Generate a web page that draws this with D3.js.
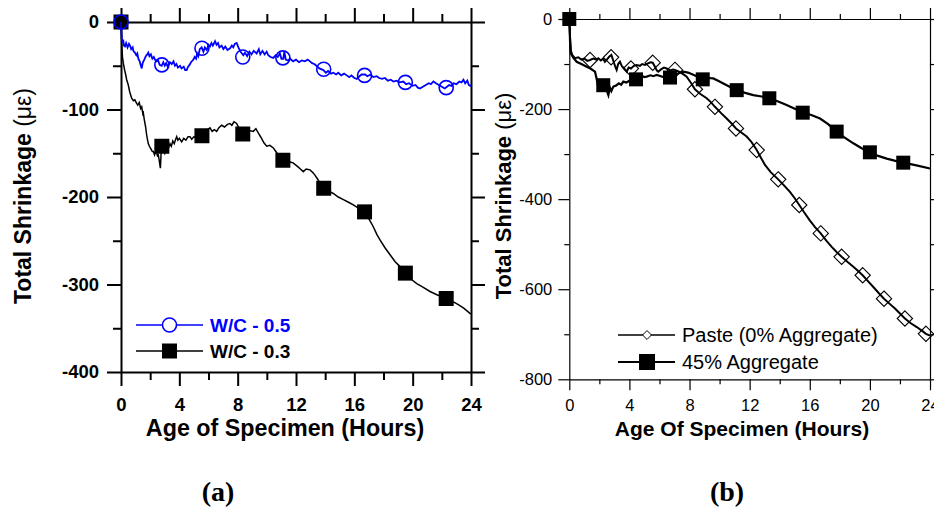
<!DOCTYPE html>
<html>
<head>
<meta charset="utf-8">
<script src="https://cdn.jsdelivr.net/npm/d3@7"></script>
<style>
  html, body { margin: 0; padding: 0; background: #fff; }
  svg { display: block; }
</style>
</head>
<body>
<div id="chart"></div>
<script>
// ---- data (hours, shrinkage in microstrain) ----
const hourTicks = [0, 4, 8, 12, 16, 20, 24];
const hourMinor = [2, 6, 10, 14, 18, 22];
const leftYTicks = [0, -100, -200, -300, -400];
const leftYMinor = [-50, -150, -250, -350];
const rightYTicks = [0, -200, -400, -600, -800];
const rightYMinor = [-100, -300, -500, -700];

// panel (a): W/C 0.5
const wc05Trace = [
  [0,0],[0.05,-19],[0.1,-24],[0.15,-20],[0.2,-27],[0.27,-28],[0.35,-24],[0.45,-29],[0.55,-25],[0.62,-27],
  [0.7,-31],[0.8,-29],[0.85,-33],[0.95,-35],[1.05,-38],[1.12,-36],[1.19,-42],[1.28,-45],[1.35,-49],[1.42,-53],
  [1.5,-46],[1.6,-43],[1.7,-39],[1.8,-37],[1.87,-35],[1.95,-39],[2.05,-37],[2.15,-42],[2.25,-40],[2.33,-43],
  [2.45,-45],[2.55,-44],[2.65,-49],[2.79,-50],[2.9,-46],[3.0,-50],[3.1,-47],[3.2,-51],[3.35,-46],[3.48,-48],
  [3.6,-45],[3.7,-50],[3.8,-48],[3.9,-52],[4.05,-50],[4.15,-53],[4.3,-51],[4.4,-55],[4.5,-55],[4.6,-51],
  [4.7,-49],[4.8,-46],[4.9,-44],[4.96,-43],[5.05,-40],[5.15,-42],[5.22,-36],[5.3,-39],[5.4,-31],[5.53,-29],
  [5.65,-34],[5.75,-29],[5.88,-32],[6.0,-26],[6.1,-28],[6.2,-24],[6.3,-27],[6.45,-22],[6.55,-26],[6.65,-24],
  [6.75,-29],[6.9,-27],[7.02,-31],[7.15,-28],[7.3,-32],[7.48,-30],[7.6,-27],[7.7,-29],[7.8,-25],[7.93,-24],
  [8.05,-29],[8.2,-34],[8.39,-38],[8.5,-35],[8.65,-39],[8.8,-34],[8.95,-37],[9.1,-33],[9.3,-36],[9.45,-31],
  [9.55,-37],[9.7,-33],[9.85,-37],[9.99,-34],[10.1,-38],[10.25,-40],[10.45,-41],[10.6,-38],[10.75,-40],[10.9,-36],
  [11.0,-42],[11.13,-42],[11.2,-34],[11.3,-43],[11.45,-44],[11.6,-42],[11.8,-45],[12.0,-43],[12.2,-46],[12.4,-44],
  [12.6,-45],[12.8,-43],[12.96,-45],[13.1,-47],[13.25,-48],[13.4,-50],[13.6,-53],[13.88,-55],[14.05,-58],[14.2,-56],
  [14.4,-59],[14.56,-58],[14.75,-60],[14.9,-58],[15.1,-61],[15.3,-59],[15.48,-61],[15.65,-63],[15.8,-61],[16.0,-64],
  [16.17,-65],[16.35,-62],[16.5,-60],[16.74,-60],[16.9,-62],[17.1,-60],[17.3,-63],[17.54,-62],[17.7,-64],[17.9,-65],
  [18.1,-64],[18.3,-67],[18.5,-66],[18.68,-68],[18.9,-67],[19.1,-69],[19.36,-68],[19.55,-71],[19.75,-70],[20.0,-73],
  [20.2,-72],[20.35,-75],[20.5,-76],[20.7,-74],[20.9,-72],[21.1,-70],[21.25,-71],[21.42,-68],[21.6,-70],[21.8,-72],
  [22.0,-74],[22.2,-76],[22.35,-74],[22.5,-72],[22.65,-73],[22.8,-70],[23.0,-71],[23.2,-68],[23.35,-69],[23.48,-66],
  [23.6,-70],[23.75,-67],[23.85,-72],[23.94,-73],[24.0,-72]
];
const wc05MarkHours = [0, 2.8, 5.55, 8.35, 11.1, 13.9, 16.7, 19.5, 22.3];
const wc05MarkVals = [0, -49, -30, -40, -41, -54, -61, -69, -75];

// panel (a): W/C 0.3
const wc03Trace = [
  [0,0],[0.05,-25],[0.1,-40],[0.16,-47],[0.25,-55],[0.32,-60],[0.39,-66],[0.5,-72],[0.6,-80],[0.73,-87],
  [0.85,-90],[0.95,-89],[1.07,-93],[1.15,-95],[1.25,-92],[1.35,-99],[1.42,-97],[1.5,-105],[1.53,-104],[1.6,-112],
  [1.69,-120],[1.75,-128],[1.8,-133],[1.87,-139],[1.95,-142],[2.05,-145],[2.15,-148],[2.22,-148],[2.3,-152],[2.4,-147],
  [2.5,-153],[2.56,-152],[2.62,-158],[2.7,-167],[2.75,-150],[2.82,-148],[2.9,-146],[3.0,-150],[3.1,-143],[3.2,-147],
  [3.36,-139],[3.45,-142],[3.55,-136],[3.65,-139],[3.75,-134],[3.82,-131],[3.9,-135],[4.0,-133],[4.16,-137],[4.3,-133],
  [4.45,-135],[4.6,-131],[4.73,-131],[4.85,-134],[5.0,-131],[5.19,-133],[5.35,-130],[5.53,-130],[5.7,-127],[5.85,-124],
  [6.0,-122],[6.1,-121],[6.25,-125],[6.4,-123],[6.56,-125],[6.7,-121],[6.9,-118],[7.1,-120],[7.3,-117],[7.47,-116],
  [7.6,-118],[7.75,-114],[7.93,-116],[8.05,-120],[8.2,-124],[8.4,-128],[8.6,-127],[8.8,-124],[9.07,-125],[9.25,-122],
  [9.42,-127],[9.6,-132],[9.8,-138],[9.99,-142],[10.2,-141],[10.45,-144],[10.7,-150],[10.9,-155],[11.15,-158],[11.4,-158],
  [11.6,-160],[11.8,-161],[12.1,-165],[12.3,-168],[12.5,-171],[12.7,-168],[12.96,-169],[13.15,-172],[13.3,-175],[13.5,-180],
  [13.7,-186],[13.9,-190],[14.2,-193],[14.56,-196],[14.9,-200],[15.25,-203],[15.6,-206],[15.93,-209],[16.3,-213],[16.7,-217],
  [17.0,-225],[17.3,-234],[17.55,-243],[17.76,-249],[18.1,-258],[18.45,-266],[18.8,-274],[19.1,-279],[19.5,-287],[19.9,-294],
  [20.28,-299],[20.7,-303],[21.19,-308],[21.7,-312],[22.3,-316],[22.7,-319],[23.13,-323],[23.5,-327],[23.93,-333],[24,-334]
];
const wc03MarkHours = [0, 2.8, 5.55, 8.35, 11.1, 13.9, 16.7, 19.5, 22.3];
const wc03MarkVals = [0, -142, -130, -128, -158, -190, -217, -287, -316];

// panel (b): paste (0% aggregate)
const pasteTrace = [
  [0,0],[0.05,-40],[0.1,-70],[0.2,-80],[0.38,-87],[0.6,-85],[0.8,-90],[1.0,-88],[1.2,-93],[1.38,-91],
  [1.6,-88],[1.8,-90],[1.93,-87],[2.1,-92],[2.25,-88],[2.37,-95],[2.5,-90],[2.65,-84],[2.8,-80],[2.95,-95],
  [3.05,-105],[3.15,-113],[3.25,-100],[3.37,-95],[3.5,-105],[3.65,-110],[3.82,-117],[3.95,-108],[4.1,-110],[4.3,-104],
  [4.48,-102],[4.7,-104],[4.85,-100],[5.04,-102],[5.2,-99],[5.4,-96],[5.55,-97],[5.7,-106],[5.82,-114],[5.92,-117],
  [6.1,-112],[6.3,-108],[6.48,-110],[6.7,-114],[6.9,-112],[7.03,-113],[7.3,-117],[7.55,-122],[7.81,-128],[8.1,-142],
  [8.36,-156],[8.7,-166],[9.14,-176],[9.4,-184],[9.69,-195],[10.1,-209],[10.47,-221],[10.8,-232],[11.09,-243],[11.4,-251],
  [11.8,-261],[12.1,-272],[12.47,-291],[12.75,-308],[13.02,-324],[13.4,-340],[13.9,-356],[14.3,-370],[14.68,-384],[15.0,-398],
  [15.3,-413],[15.6,-428],[16.0,-447],[16.35,-462],[16.73,-476],[17.1,-492],[17.46,-506],[17.8,-518],[18.12,-528],[18.5,-539],
  [18.9,-550],[19.2,-559],[19.52,-569],[19.9,-583],[20.23,-595],[20.6,-609],[20.94,-621],[21.3,-632],[21.67,-643],[22.0,-654],
  [22.33,-665],[22.7,-675],[23.12,-684],[23.5,-693],[23.73,-699],[24,-703]
];
const pasteMarkHours = [1.38, 2.78, 4.1, 5.55, 7.03, 8.36, 9.69, 11.09, 12.47, 13.9, 15.3, 16.73, 18.12, 19.52, 20.94, 22.33, 23.73];
const pasteMarkVals = [-91, -85, -110, -97, -113, -156, -195, -243, -291, -356, -413, -476, -528, -569, -621, -665, -699];

// panel (b): 45% aggregate
const aggTrace = [
  [0,0],[0.05,-50],[0.1,-76],[0.25,-85],[0.49,-95],[0.8,-100],[1.16,-106],[1.4,-110],[1.71,-117],[1.8,-130],
  [1.9,-147],[2.1,-145],[2.26,-147],[2.45,-155],[2.6,-169],[2.7,-152],[2.8,-160],[2.93,-150],[3.1,-148],[3.3,-143],
  [3.45,-146],[3.6,-139],[3.8,-141],[4.0,-137],[4.2,-139],[4.44,-134],[4.6,-128],[4.8,-126],[5.0,-129],[5.15,-128],
  [5.4,-125],[5.6,-127],[5.82,-124],[6.1,-127],[6.4,-131],[6.7,-130],[7.0,-125],[7.3,-120],[7.58,-117],[7.9,-119],
  [8.25,-124],[8.55,-128],[8.88,-134],[9.2,-131],[9.58,-132],[9.9,-137],[10.25,-143],[10.7,-151],[11.14,-158],[11.7,-164],
  [12.24,-169],[12.8,-172],[13.31,-176],[13.9,-183],[14.46,-191],[15.0,-199],[15.53,-208],[16.1,-213],[16.68,-221],[17.2,-233],
  [17.79,-250],[18.3,-263],[18.9,-276],[19.45,-287],[20.0,-296],[20.55,-304],[21.12,-310],[21.7,-315],[22.22,-319],[23.1,-325],
  [24,-332]
];
const aggMarkHours = [0, 2.26, 4.44, 6.7, 8.88, 11.14, 13.31, 15.53, 17.79, 20.0, 22.22];
const aggMarkVals = [0, -147, -134, -130, -134, -158, -176, -208, -250, -296, -319];

const sans = "'Liberation Sans', Arial, Helvetica, sans-serif";

const svg = d3.select("#chart")
  .append("svg")
    .attr("width", 934)
    .attr("height", 509)
    .attr("viewBox", [0, 0, 934, 509]);

// scales for both panels
const xA = d3.scaleLinear().domain([0, 24]).range([121, 471]);
const yA = d3.scaleLinear().domain([-400, 0]).range([372, 22]);
const xB = d3.scaleLinear().domain([0, 24]).range([569.3, 930]);
const yB = d3.scaleLinear().domain([-800, 0]).range([379.3, 19]);

// box with outward major + minor ticks on all four sides
function drawFrame(x, y, opt) {
  const g = svg.append("g");
  const [x0, x1] = x.range();
  const [y0, y1] = y.range();
  const fmt = d => String(d);
  const sides = [
    [d3.axisBottom, x, `translate(0,${y0})`, hourTicks, hourMinor, true, opt.padX],
    [d3.axisTop, x, `translate(0,${y1})`, hourTicks, hourMinor, false, opt.padX],
    [d3.axisLeft, y, `translate(${x0},0)`, opt.yTicks, opt.yMinor, true, opt.padY],
    [d3.axisRight, y, `translate(${x1},0)`, opt.yTicks, opt.yMinor, false, opt.padY]
  ];
  sides.forEach(([make, scale, tr, major, minor, labels, pad]) => {
    g.append("g")
      .attr("transform", tr)
      .call(make(scale).tickValues(major).tickSize(opt.major).tickSizeOuter(0)
        .tickPadding(pad)
        .tickFormat(labels ? fmt : () => ""))
      .attr("font-family", sans)
      .attr("font-size", opt.fontSize)
      .attr("font-weight", opt.bold ? "bold" : "normal")
      .call(a => a.selectAll("line, path").attr("stroke", "#000").attr("stroke-width", opt.sw))
      .call(a => a.selectAll("text").attr("fill", "#000"));
    g.append("g")
      .attr("transform", tr)
      .call(make(scale).tickValues(minor).tickSize(opt.minor).tickFormat(() => ""))
      .call(a => a.select(".domain").remove())
      .call(a => a.selectAll("line").attr("stroke", "#000").attr("stroke-width", opt.sw));
  });
  return g;
}

function yTitle(cx, cy, size) {
  const t = svg.append("text")
    .attr("transform", `translate(${cx},${cy}) rotate(-90)`)
    .attr("text-anchor", "middle")
    .attr("dominant-baseline", "central")
    .attr("font-family", sans)
    .attr("font-size", size)
    .attr("fill", "#000");
  t.append("tspan").attr("font-weight", "bold").text("Total Shrinkage ");
  t.append("tspan").attr("font-weight", "normal").text("(με)");
}

const line = (x, y) => d3.line().x(d => x(d[0])).y(d => y(d[1]));
const sq = d3.symbol().type(d3.symbolSquare);
const dia = d3.symbol().type(d3.symbolDiamond2);

// ---------- panel (a) ----------
drawFrame(xA, yA, {fontSize: 18.5, bold: true, major: 14, minor: 8, sw: 2,
  padX: 12, padY: 8, yTicks: leftYTicks, yMinor: leftYMinor});

svg.append("path")
  .attr("d", line(xA, yA)(wc03Trace))
  .attr("fill", "none").attr("stroke", "#000").attr("stroke-width", 1.5);
svg.append("g").selectAll("path")
  .data(wc03MarkHours)
  .join("path")
    .attr("transform", (d, i) => `translate(${xA(d)},${yA(wc03MarkVals[i])})`)
    .attr("d", sq.size(15 * 15)())
    .attr("fill", "#000");

svg.append("path")
  .attr("d", line(xA, yA)(wc05Trace))
  .attr("fill", "none").attr("stroke", "#0000ff").attr("stroke-width", 1.8);
svg.append("g").selectAll("circle")
  .data(wc05MarkHours)
  .join("circle")
    .attr("cx", d => xA(d))
    .attr("cy", (d, i) => yA(wc05MarkVals[i]))
    .attr("r", 7)
    .attr("fill", "none")
    .attr("stroke", "#0000ff")
    .attr("stroke-width", 1.6);

// legend (a)
const legA = svg.append("g").attr("font-family", sans).attr("font-weight", "bold").attr("font-size", 19);
legA.append("line").attr("x1", 136).attr("x2", 203).attr("y1", 325).attr("y2", 325)
  .attr("stroke", "#0000ff").attr("stroke-width", 1.3);
legA.append("circle").attr("cx", 169.5).attr("cy", 325).attr("r", 7)
  .attr("fill", "#fff").attr("stroke", "#0000ff").attr("stroke-width", 1.6);
legA.append("text").attr("x", 210).attr("y", 325).attr("dominant-baseline", "central")
  .attr("fill", "#0000ff").text("W/C - 0.5");
legA.append("line").attr("x1", 136).attr("x2", 203).attr("y1", 351).attr("y2", 351)
  .attr("stroke", "#000").attr("stroke-width", 1.3);
legA.append("path").attr("transform", "translate(169.5,351)").attr("d", sq.size(15 * 15)()).attr("fill", "#000");
legA.append("text").attr("x", 210).attr("y", 351).attr("dominant-baseline", "central")
  .attr("fill", "#000").text("W/C - 0.3");

svg.append("text")
  .attr("x", 285).attr("y", 436)
  .attr("text-anchor", "middle")
  .attr("font-family", sans).attr("font-weight", "bold").attr("font-size", 23.3)
  .text("Age of Specimen (Hours)");
yTitle(23, 196, 23);

// ---------- panel (b) ----------
drawFrame(xB, yB, {fontSize: 16.5, bold: false, major: 11, minor: 5, sw: 1.2,
  padX: 9, padY: 6, yTicks: rightYTicks, yMinor: rightYMinor});

svg.append("path")
  .attr("d", line(xB, yB)(pasteTrace))
  .attr("fill", "none").attr("stroke", "#000").attr("stroke-width", 2);
svg.append("path")
  .attr("d", line(xB, yB)(aggTrace))
  .attr("fill", "none").attr("stroke", "#000").attr("stroke-width", 2.2);
svg.append("g").selectAll("path")
  .data(pasteMarkHours)
  .join("path")
    .attr("transform", (d, i) => `translate(${xB(d)},${yB(pasteMarkVals[i])})`)
    .attr("d", dia.size(150)())
    .attr("fill", "none")
    .attr("stroke", "#000")
    .attr("stroke-width", 1.1);
svg.append("g").selectAll("path")
  .data(aggMarkHours)
  .join("path")
    .attr("transform", (d, i) => `translate(${xB(d)},${yB(aggMarkVals[i])})`)
    .attr("d", sq.size(14 * 14)())
    .attr("fill", "#000");

// legend (b)
const legB = svg.append("g").attr("font-family", sans).attr("font-size", 20);
legB.append("line").attr("x1", 618).attr("x2", 675).attr("y1", 335).attr("y2", 335)
  .attr("stroke", "#000").attr("stroke-width", 1.5);
legB.append("path").attr("transform", "translate(647,335)").attr("d", dia.size(50)())
  .attr("fill", "#fff").attr("stroke", "#000").attr("stroke-width", 1);
legB.append("text").attr("x", 682).attr("y", 335).attr("dominant-baseline", "central").text("Paste (0% Aggregate)");
legB.append("line").attr("x1", 618).attr("x2", 675).attr("y1", 362).attr("y2", 362)
  .attr("stroke", "#000").attr("stroke-width", 2);
legB.append("path").attr("transform", "translate(647,362)").attr("d", sq.size(16 * 16)()).attr("fill", "#000");
legB.append("text").attr("x", 682).attr("y", 362).attr("dominant-baseline", "central").text("45% Aggregate");

svg.append("text")
  .attr("x", 742).attr("y", 436)
  .attr("text-anchor", "middle")
  .attr("font-family", sans).attr("font-weight", "bold").attr("font-size", 21)
  .text("Age Of Specimen (Hours)");
yTitle(503, 196, 22);

// captions
const serif = "'Liberation Serif', 'Times New Roman', serif";
svg.append("text").attr("x", 218).attr("y", 501).attr("text-anchor", "middle")
  .attr("font-family", serif).attr("font-weight", "bold").attr("font-size", 28).text("(a)");
svg.append("text").attr("x", 727).attr("y", 501).attr("text-anchor", "middle")
  .attr("font-family", serif).attr("font-weight", "bold").attr("font-size", 28).text("(b)");
</script>
</body>
</html>
